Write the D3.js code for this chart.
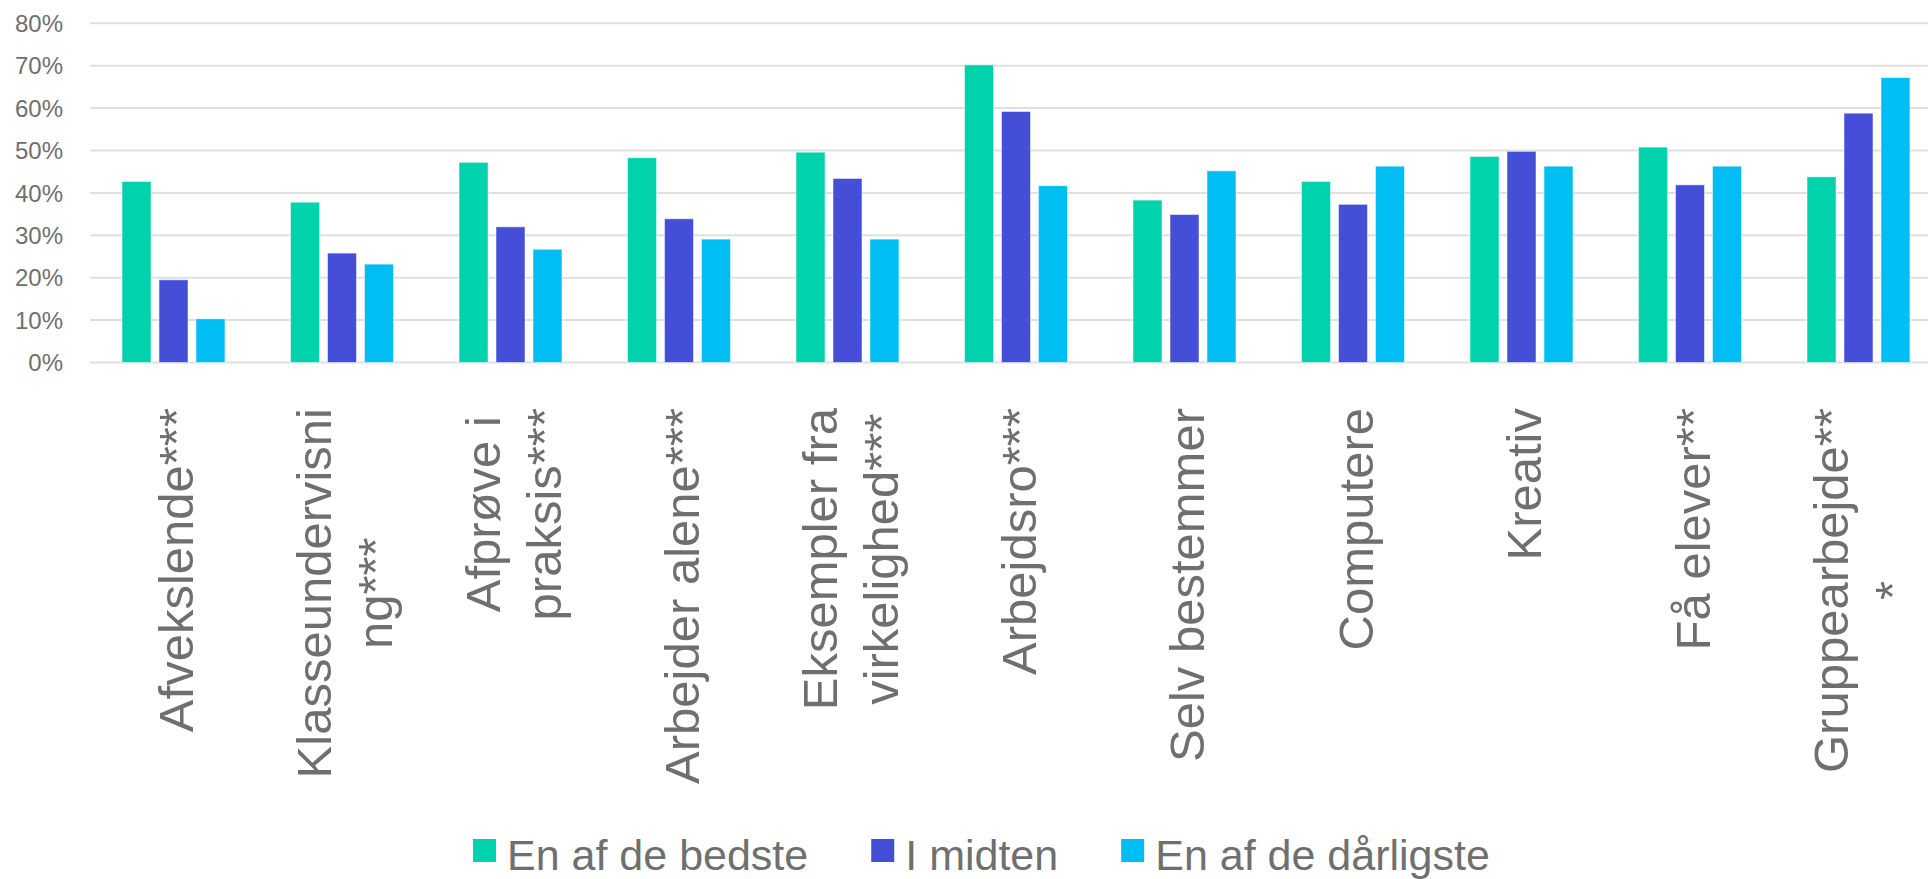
<!DOCTYPE html>
<html>
<head>
<meta charset="utf-8">
<script src="https://cdn.jsdelivr.net/npm/d3@7"></script>
<style>
  body { margin: 0; background: #fff; }
  text { font-family: "Liberation Sans", Arial, sans-serif; fill: #6f6f6f; }
</style>
</head>
<body>
<div id="chart"></div>
<script>
// categories, split into the lines they wrap to
const categories = [
  ['Afvekslende***'],
  ['Klasseundervisni', 'ng***'],
  ['Afprøve i', 'praksis***'],
  ['Arbejder alene***'],
  ['Eksempler fra', 'virkelighed***'],
  ['Arbejdsro***'],
  ['Selv bestemmer'],
  ['Computere'],
  ['Kreativ'],
  ['Få elever**'],
  ['Gruppearbejde**', '*']
];
const seriesNames = ['En af de bedste', 'I midten', 'En af de dårligste'];
const bedste   = [42.7, 37.8, 47.2, 48.3, 49.6, 70.2, 38.3, 42.7, 48.6, 50.8, 43.8];
const midten   = [19.5, 25.8, 32.0, 33.9, 43.4, 59.2, 34.9, 37.3, 49.8, 41.9, 58.8];
const daarligst = [10.3, 23.2, 26.7, 29.1, 29.1, 41.7, 45.2, 46.3, 46.3, 46.3, 67.2];
const yTicks = [0, 10, 20, 30, 40, 50, 60, 70, 80];
const colors = ['#00d2ab', '#444ed6', '#00bdf4'];

const width = 1928, height = 879;
const series = [bedste, midten, daarligst];
const keys = categories.map(c => c.join(' '));

const svg = d3.select('#chart').append('svg')
  .attr('width', width)
  .attr('height', height);

const x0 = d3.scaleBand()
  .domain(keys)
  .range([89.25, 1942.75])
  .paddingInner(0.389)
  .paddingOuter(0.1945);

const x1 = d3.scaleBand()
  .domain(seriesNames)
  .range([0, x0.bandwidth()])
  .paddingInner(0.216);

const y = d3.scaleLinear()
  .domain([0, 80])
  .range([362.5, 23.3]);

// gridlines
svg.append('g')
  .selectAll('line')
  .data(yTicks)
  .enter()
  .append('line')
  .attr('x1', 90)
  .attr('x2', width)
  .attr('y1', d => y(d))
  .attr('y2', d => y(d))
  .attr('stroke', '#e0e0e0')
  .attr('stroke-width', 2);

// y tick labels
svg.append('g')
  .selectAll('text')
  .data(yTicks)
  .enter()
  .append('text')
  .attr('x', 63)
  .attr('y', d => y(d))
  .attr('dy', '0.36em')
  .attr('text-anchor', 'end')
  .style('font-size', '24px')
  .text(d => d + '%');

// bars
const groups = svg.append('g')
  .selectAll('g')
  .data(keys)
  .enter()
  .append('g')
  .attr('transform', d => `translate(${x0(d)},0)`);

groups.selectAll('rect')
  .data((d, i) => seriesNames.map((s, j) => ({ s: s, v: series[j][i], c: colors[j] })))
  .enter()
  .append('rect')
  .attr('x', d => x1(d.s))
  .attr('y', d => y(d.v))
  .attr('width', x1.bandwidth())
  .attr('height', d => y(0) - y(d.v))
  .attr('fill', d => d.c)
  .attr('stroke', '#ffffff')
  .attr('stroke-opacity', 0.5)
  .attr('stroke-width', 1);

// rotated category labels
const fs = 49, lineH = 61, labelTop = 408;
categories.forEach((lines, i) => {
  const cx = x0(keys[i]) + x0.bandwidth() / 2;
  const g = svg.append('g')
    .attr('transform', `translate(${cx},0) rotate(-90)`);
  const texts = lines.map((t, k) => g.append('text')
    .attr('text-anchor', 'middle')
    .attr('y', -(lines.length - 1) * lineH / 2 + k * lineH + fs * 0.4)
    .style('font-size', fs + 'px')
    .text(t));
  const maxW = d3.max(texts, t => t.node().getComputedTextLength());
  texts.forEach(t => t.attr('x', -(labelTop + maxW / 2)));
});

// legend
const legend = svg.append('g');
let lx = 473;
seriesNames.forEach((s, j) => {
  legend.append('rect')
    .attr('x', lx)
    .attr('y', 839)
    .attr('width', 23)
    .attr('height', 23)
    .attr('fill', colors[j]);
  const t = legend.append('text')
    .attr('x', lx + 34)
    .attr('y', 870)
    .style('font-size', '43px')
    .text(s);
  lx += 34 + t.node().getComputedTextLength() + 63;
});
</script>
</body>
</html>
